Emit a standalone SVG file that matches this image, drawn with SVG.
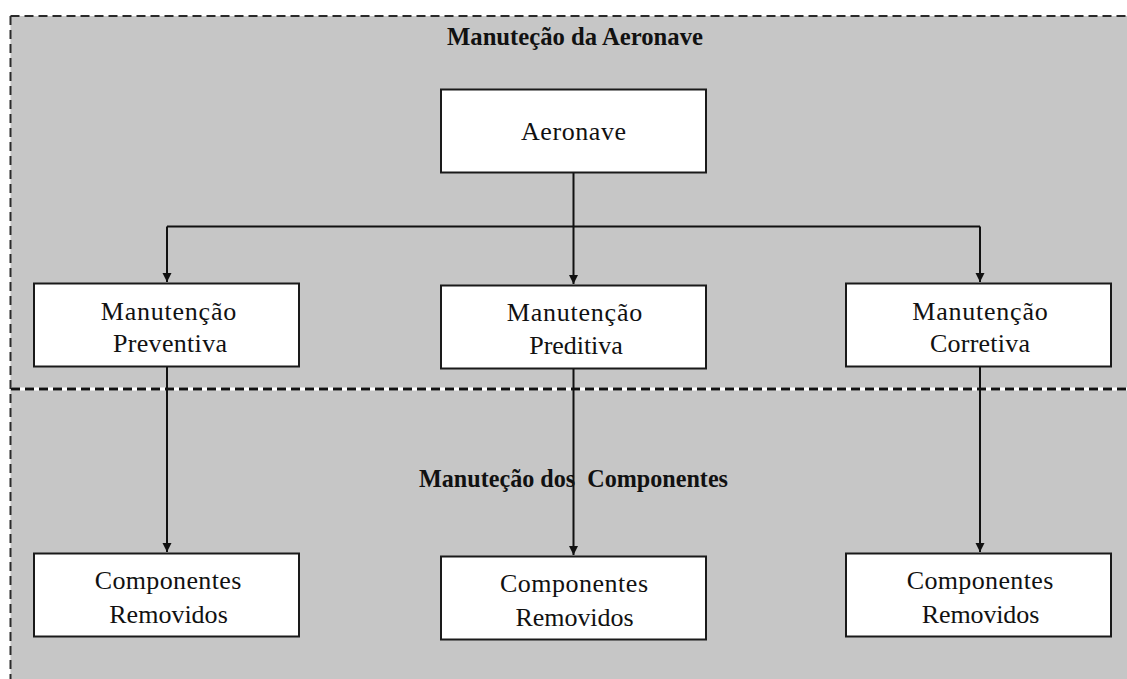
<svg xmlns="http://www.w3.org/2000/svg" width="1127" height="679" viewBox="0 0 1127 679">
<defs>
<marker id="arr" markerUnits="userSpaceOnUse" markerWidth="10" markerHeight="10" refX="9" refY="4.5" orient="auto">
<path d="M0,0 L9,4.5 L0,9 Z" fill="#111"/>
</marker>
<style>
.box{fill:#fff;stroke:#1a1a1a;stroke-width:2}
.t{font-family:"Liberation Serif","Times New Roman",serif;font-size:26px;fill:#111;text-anchor:middle}
.h{font-family:"Liberation Serif","Times New Roman",serif;font-size:25px;font-weight:bold;fill:#111;text-anchor:middle}
.c{fill:none;stroke:#111;stroke-width:2}
</style>
</defs>
<rect x="0" y="0" width="1127" height="679" fill="#fff"/>
<g id="background">
<rect x="10.5" y="16" width="1117" height="663" fill="#c6c6c6"/>
<path d="M10.5,16 H1127" stroke="#2a2a2a" stroke-width="2" stroke-dasharray="9,5" fill="none"/>
<path d="M10.5,16 V679" stroke="#2a2a2a" stroke-width="2" stroke-dasharray="9,5" fill="none"/>
<path d="M11,389 H1127" stroke="#fff" stroke-width="3" fill="none"/>
<path d="M11,389 H1127" stroke="#111" stroke-width="3" stroke-dasharray="9,5" fill="none"/>
<text class="h" x="575" y="45" textLength="256" lengthAdjust="spacingAndGlyphs">Manuteção da Aeronave</text>
<text class="h" x="573.5" y="487" textLength="309" lengthAdjust="spacingAndGlyphs" xml:space="preserve">Manuteção dos  Componentes</text>
</g>
<g id="connectors">
<path class="c" d="M573.5,172 V284" marker-end="url(#arr)"/>
<path class="c" d="M167,226.5 H980"/>
<path class="c" d="M167,226.5 V282" marker-end="url(#arr)"/>
<path class="c" d="M980,226.5 V282" marker-end="url(#arr)"/>
<path class="c" d="M167,366 V552" marker-end="url(#arr)"/>
<path class="c" d="M573.5,368 V555" marker-end="url(#arr)"/>
<path class="c" d="M980,366 V552" marker-end="url(#arr)"/>
</g>
<g id="aeronave">
<rect class="box" x="441" y="89.5" width="265" height="83"/>
<text class="t" x="573.5" y="140" textLength="105" lengthAdjust="spacing">Aeronave</text>
</g>
<g id="preventiva">
<rect class="box" x="34" y="283.5" width="265" height="83"/>
<text class="t" x="168.5" y="319.5" textLength="135.5" lengthAdjust="spacing">Manutenção</text>
<text class="t" x="170" y="352" textLength="114" lengthAdjust="spacing">Preventiva</text>
</g>
<g id="preditiva">
<rect class="box" x="441" y="285.5" width="265" height="83"/>
<text class="t" x="574.5" y="321" textLength="135.5" lengthAdjust="spacing">Manutenção</text>
<text class="t" x="576" y="353.5" textLength="93.5" lengthAdjust="spacing">Preditiva</text>
</g>
<g id="corretiva">
<rect class="box" x="846" y="283.5" width="265" height="83"/>
<text class="t" x="980" y="319.5" textLength="135.5" lengthAdjust="spacing">Manutenção</text>
<text class="t" x="980" y="352" textLength="100" lengthAdjust="spacing">Corretiva</text>
</g>
<g id="componentes-preventiva">
<rect class="box" x="34" y="553.5" width="265" height="83"/>
<text class="t" x="168" y="589" textLength="146.5" lengthAdjust="spacing">Componentes</text>
<text class="t" x="168.5" y="623" textLength="118.5" lengthAdjust="spacing">Removidos</text>
</g>
<g id="componentes-preditiva">
<rect class="box" x="441" y="556.5" width="265" height="83"/>
<text class="t" x="574" y="592" textLength="148" lengthAdjust="spacing">Componentes</text>
<text class="t" x="574.5" y="626" textLength="118" lengthAdjust="spacing">Removidos</text>
</g>
<g id="componentes-corretiva">
<rect class="box" x="846" y="553.5" width="265" height="83"/>
<text class="t" x="980" y="589" textLength="146.5" lengthAdjust="spacing">Componentes</text>
<text class="t" x="980.5" y="623" textLength="117.5" lengthAdjust="spacing">Removidos</text>
</g>
</svg>
